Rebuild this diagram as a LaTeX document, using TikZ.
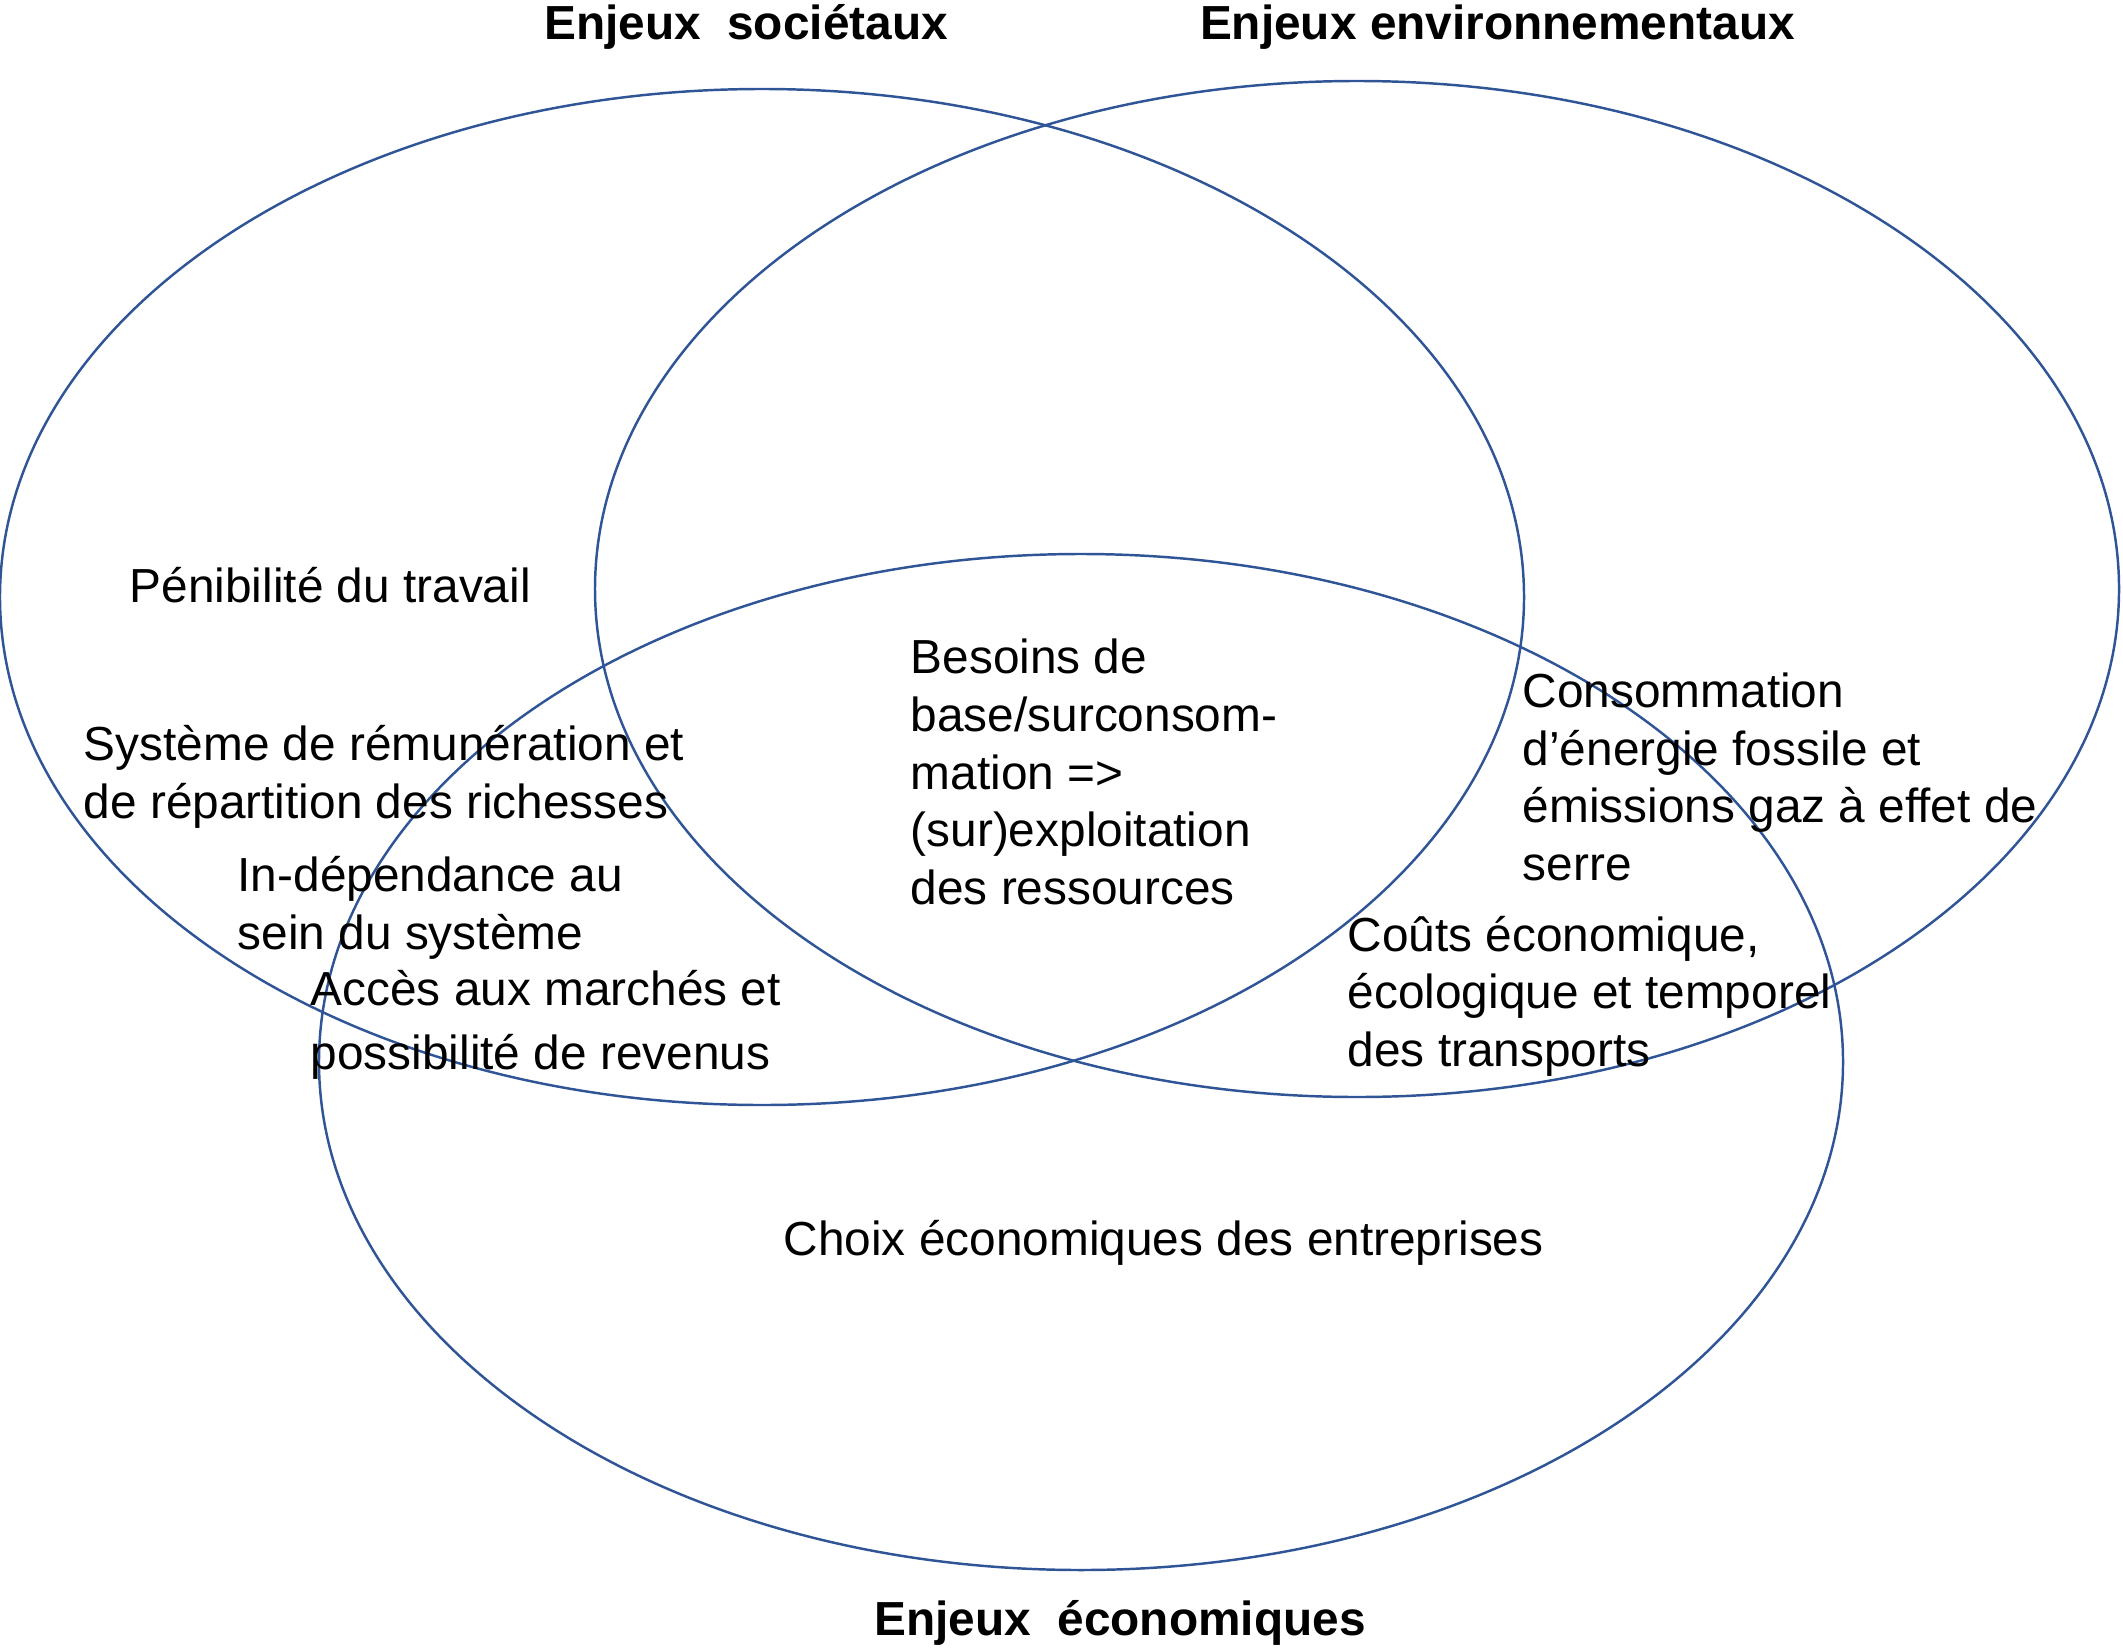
\documentclass[tikz,border=0pt]{standalone}
\usepackage{fontspec}
\setmainfont{Liberation Sans}
\usetikzlibrary{shapes.geometric}
\definecolor{vennblue}{HTML}{2F5597}
\tikzset{
	venn/.is family,
	venn/.cd,
	set/.style = {
		ellipse,
		draw = vennblue,
		line width = 0.7pt,
		inner sep = 0pt,
		outer sep = 0pt,
		minimum width = 15.24cm,
		minimum height = 10.16cm,
	},
	title/.style = {
		inner sep = 0pt,
		font = \fontsize{13.6pt}{16.4pt}\selectfont\bfseries,
	},
	item/.style = {
		anchor = west,
		align = left,
		inner sep = 0pt,
		font = \fontsize{13.6pt}{16.4pt}\selectfont,
	},
}

\begin{document}
\begin{tikzpicture}
	\useasboundingbox (0, 0) rectangle (21.23, 16.47);

	% the three sets
	\node[venn/set] (societal) at (7.62, 10.50) {};
	\node[venn/set] (environmental) at (13.57, 10.58) {};
	\node[venn/set] (economic) at (10.81, 5.85) {};

	\node[venn/title] (societal title) at (7.46, 16.20) {Enjeux\ \ sociétaux};
	\node[venn/title] (environmental title) at (14.975, 16.20) {Enjeux environnementaux};
	\node[venn/title] (economic title) at (11.20, 0.24) {Enjeux\ \ économiques};

	\node[venn/item] (hardship) at (1.29, 10.62) {Pénibilité du travail};
	\node[venn/item] (pay) at (0.83, 8.70) {Système de rémunération et\\de répartition des richesses};
	\node[venn/item] (dependence) at (2.37, 7.39) {In-dépendance au\\sein du système};
	\node[venn/item] (markets) at (3.10, 6.22) {Accès aux marchés et\\[2pt]possibilité de revenus};
	\node[venn/item] (needs) at (9.10, 8.75) {Besoins de\\base/surconsom-\\mation =>\\(sur)exploitation\\des ressources};
	\node[venn/item] (energy) at (15.22, 8.70) {Consommation\\d’énergie fossile et\\émissions gaz à effet de\\serre};
	\node[venn/item] (transport) at (13.47, 6.51) {Coûts économique,\\écologique et temporel\\des transports};
	\node[venn/item] (firms) at (7.83, 4.04) {Choix économiques des entreprises};
\end{tikzpicture}
\end{document}
